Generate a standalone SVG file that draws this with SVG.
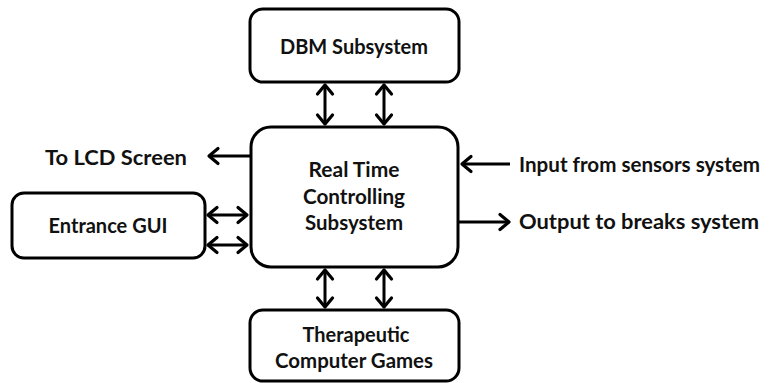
<svg xmlns="http://www.w3.org/2000/svg" width="771" height="383" viewBox="0 0 771 383">
<style>
.box{fill:#fff;stroke:#000;stroke-width:3}
.t{font-family:Lato,"Open Sans","Liberation Sans",sans-serif;font-weight:bold;font-size:21px;fill:#111}
.c{stroke:#000;stroke-width:3;fill:none;marker-end:url(#ah)}
.d{marker-start:url(#ah)}
</style>
<defs>
<marker id="ah" markerUnits="userSpaceOnUse" markerWidth="20" markerHeight="20" refX="0" refY="0" viewBox="-12 -10 14 20" orient="auto-start-reverse" overflow="visible">
<path d="M-9,-7.5 L0,0 L-9,7.5" fill="none" stroke="#000" stroke-width="3.2" stroke-linecap="round" stroke-linejoin="round"/>
</marker>
</defs>
<rect width="771" height="383" fill="#fff"/>
<g id="connectors">
<line class="c d" x1="325" y1="85" x2="325" y2="124"/>
<line class="c d" x1="384" y1="85" x2="384" y2="124"/>
<line class="c d" x1="325" y1="270" x2="325" y2="307"/>
<line class="c d" x1="384" y1="270" x2="384" y2="307"/>
<line class="c d" x1="208" y1="215" x2="247" y2="215"/>
<line class="c d" x1="208" y1="245" x2="247" y2="245"/>
<line class="c" x1="250" y1="156" x2="209" y2="156"/>
<line class="c" x1="510" y1="164" x2="462" y2="164"/>
<line class="c" x1="459" y1="222" x2="509" y2="222"/>
</g>
<g id="dbm">
<rect class="box" x="250" y="9" width="209" height="73" rx="13"/>
<text class="t" x="354" y="54" text-anchor="middle" textLength="148" lengthAdjust="spacingAndGlyphs">DBM Subsystem</text>
</g>
<g id="rtc">
<rect class="box" x="251" y="127" width="207" height="140" rx="20"/>
<text class="t" x="354" y="177" text-anchor="middle" textLength="91" lengthAdjust="spacingAndGlyphs">Real Time</text>
<text class="t" x="354" y="204" text-anchor="middle" textLength="102" lengthAdjust="spacingAndGlyphs">Controlling</text>
<text class="t" x="354" y="230" text-anchor="middle" textLength="98" lengthAdjust="spacingAndGlyphs">Subsystem</text>
</g>
<g id="games">
<rect class="box" x="250" y="310" width="209" height="71" rx="13"/>
<text class="t" x="356" y="342" text-anchor="middle" textLength="107" lengthAdjust="spacingAndGlyphs">Therapeutic</text>
<text class="t" x="354" y="368" text-anchor="middle" textLength="158" lengthAdjust="spacingAndGlyphs">Computer Games</text>
</g>
<g id="gui">
<rect class="box" x="12" y="193" width="193" height="65" rx="12"/>
<text class="t" x="108" y="233" text-anchor="middle" textLength="119" lengthAdjust="spacingAndGlyphs">Entrance GUI</text>
</g>
<g id="lcd">
<text class="t" x="45" y="165" textLength="142" lengthAdjust="spacingAndGlyphs">To LCD Screen</text>
</g>
<g id="input">
<text class="t" x="519" y="172" textLength="241" lengthAdjust="spacingAndGlyphs">Input from sensors system</text>
</g>
<g id="output">
<text class="t" x="519" y="229" textLength="240" lengthAdjust="spacingAndGlyphs">Output to breaks system</text>
</g>
</svg>
